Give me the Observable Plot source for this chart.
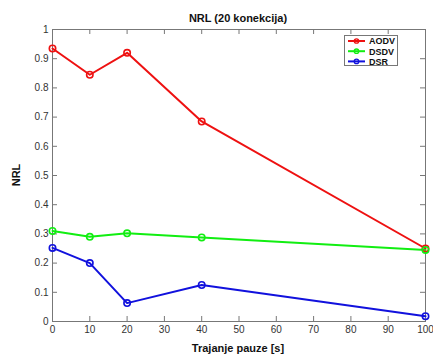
<!DOCTYPE html>
<html>
<head>
<meta charset="utf-8">
<script src="https://cdn.jsdelivr.net/npm/d3@7"></script>
<script src="https://cdn.jsdelivr.net/npm/@observablehq/plot@0.6"></script>
<style>
  body { margin: 0; background: #fff; font-family: "Liberation Sans", Arial, sans-serif; }
  #wrap { position: relative; width: 433px; height: 354px; }
  .lbl { position: absolute; font-weight: bold; font-size: 11px; color: #111; white-space: nowrap; }
  #legend { position: absolute; left: 344px; top: 35px; width: 54px; height: 31px; border: 1px solid #777; background: #fff; box-sizing: border-box; }
</style>
</head>
<body>
<div id="wrap"></div>
<script>
const pauses = [0, 10, 20, 40, 100];
const aodv = [0.935, 0.845, 0.92, 0.685, 0.25];
const dsdv = [0.31, 0.29, 0.302, 0.288, 0.245];
const dsr = [0.252, 0.2, 0.063, 0.125, 0.018];
const seriesNames = ["AODV", "DSDV", "DSR"];
const seriesColors = ["#ee1111", "#11ee11", "#1111dd"];
const xTicks = [0, 10, 20, 30, 40, 50, 60, 70, 80, 90, 100];
const yTicks = [0, 0.1, 0.2, 0.3, 0.4, 0.5, 0.6, 0.7, 0.8, 0.9, 1];
const titleText = "NRL (20 konekcija)";
const xLabel = "Trajanje pauze [s]";
const yLabel = "NRL";

const allSeries = [aodv, dsdv, dsr];
const rows = [];
allSeries.forEach((vals, i) => vals.forEach((v, j) => rows.push({series: seriesNames[i], x: pauses[j], y: v})));

const tx = 5 / 373 * 100; // tick length in x data units (~5px)
const ty = 5 / 292;       // tick length in y data units (~5px)
const tickColor = "#777";

const chart = Plot.plot({
  width: 433,
  height: 354,
  marginLeft: 52,
  marginRight: 8,
  marginTop: 29,
  marginBottom: 33,
  style: {fontFamily: "Liberation Sans, Arial, sans-serif", fontSize: "10px", color: "#333", background: "#fff"},
  x: {domain: [0, 100]},
  y: {domain: [0, 1]},
  color: {domain: seriesNames, range: seriesColors},
  marks: [
    Plot.frame({stroke: tickColor}),
    Plot.ruleX(xTicks, {x: d => d, y1: 0, y2: ty, stroke: tickColor}),
    Plot.ruleX(xTicks, {x: d => d, y1: 1, y2: 1 - ty, stroke: tickColor}),
    Plot.ruleY(yTicks, {y: d => d, x1: 0, x2: tx, stroke: tickColor}),
    Plot.ruleY(yTicks, {y: d => d, x1: 100, x2: 100 - tx, stroke: tickColor}),
    Plot.axisX(xTicks, {tickSize: 0, tickPadding: 4, label: null, fill: "#333"}),
    Plot.axisY(yTicks, {tickSize: 0, tickPadding: 4, label: null, fill: "#333", tickFormat: d => d3.format("~g")(d)}),
    Plot.line(rows, {x: "x", y: "y", z: "series", stroke: "series", strokeWidth: 2}),
    Plot.dot(rows, {x: "x", y: "y", stroke: "series", r: 3.2, strokeWidth: 1.6, fill: "none"})
  ]
});

const wrap = document.getElementById("wrap");
wrap.appendChild(chart);

function addLabel(text, css) {
  const d = document.createElement("div");
  d.className = "lbl";
  d.textContent = text;
  Object.assign(d.style, css);
  wrap.appendChild(d);
  return d;
}
addLabel(titleText, {left: "238px", top: "12px", transform: "translateX(-50%)"});
addLabel(xLabel, {left: "238px", top: "342px", transform: "translateX(-50%)"});
addLabel(yLabel, {left: "16px", top: "175px", transform: "translate(-50%,-50%) rotate(-90deg)"});

// legend
const leg = document.createElement("div");
leg.id = "legend";
wrap.appendChild(leg);
const ns = "http://www.w3.org/2000/svg";
const lsvg = document.createElementNS(ns, "svg");
lsvg.setAttribute("width", 52); lsvg.setAttribute("height", 29);
lsvg.style.position = "absolute"; lsvg.style.left = "0"; lsvg.style.top = "0";
lsvg.style.overflow = "visible";
leg.appendChild(lsvg);
seriesNames.forEach((name, i) => {
  const y = 5 + i * 10.2;
  const l = document.createElementNS(ns, "line");
  l.setAttribute("x1", 3); l.setAttribute("x2", 20); l.setAttribute("y1", y); l.setAttribute("y2", y);
  l.setAttribute("stroke", seriesColors[i]); l.setAttribute("stroke-width", 2);
  lsvg.appendChild(l);
  const c = document.createElementNS(ns, "circle");
  c.setAttribute("cx", 11.5); c.setAttribute("cy", y); c.setAttribute("r", 2.2);
  c.setAttribute("stroke", seriesColors[i]); c.setAttribute("fill", "none"); c.setAttribute("stroke-width", 1.3);
  lsvg.appendChild(c);
  const t = document.createElementNS(ns, "text");
  t.setAttribute("x", 24); t.setAttribute("y", y + 3.3);
  t.setAttribute("font-size", 9); t.setAttribute("font-weight", "bold");
  t.setAttribute("font-family", "Liberation Sans, Arial, sans-serif");
  t.setAttribute("fill", "#111");
  t.textContent = name;
  lsvg.appendChild(t);
});
</script>
</body>
</html>
